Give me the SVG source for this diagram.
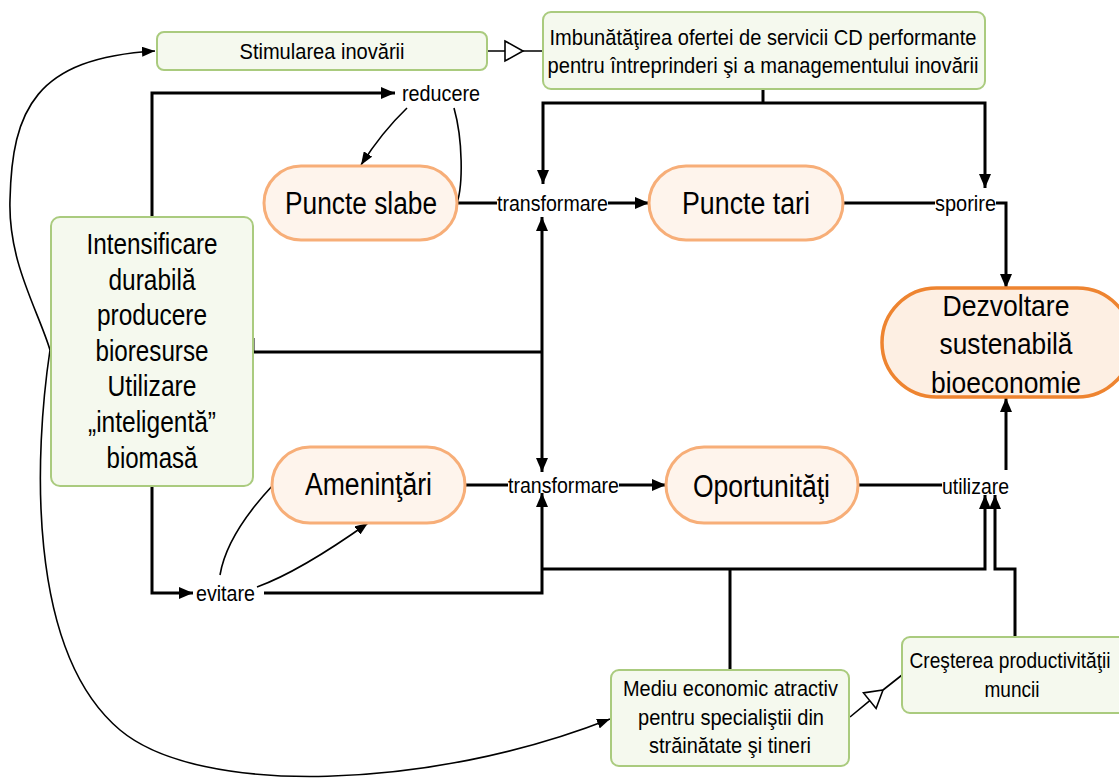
<svg xmlns="http://www.w3.org/2000/svg" width="1119" height="780" viewBox="0 0 1119 780">
<style>
.g{fill:#F5F9EE;stroke:#AACB7E;stroke-width:2}
.o{fill:#FEF4EC;stroke:#F7AE78;stroke-width:3}
.d{fill:#FDEFE3;stroke:#EE8430;stroke-width:3.5}
text{font-family:"Liberation Sans Narrow","Liberation Sans",Arial,sans-serif;fill:#000;text-anchor:middle}
.s{font-size:22px}
.m{font-size:29px}
.l{font-size:31px}
.k{stroke:#000;stroke-width:3;fill:none}
.n{stroke:#000;stroke-width:1.6;fill:none}
.tri{fill:#fff;stroke:#000;stroke-width:1.6}
</style>
<defs>
<marker id="a" viewBox="0 0 14 12" refX="14" refY="6" markerWidth="14" markerHeight="12" orient="auto" markerUnits="userSpaceOnUse"><path d="M0,0 L14,6 L0,12 z" fill="#000"/></marker>
<marker id="b" viewBox="0 0 13 10" refX="13" refY="5" markerWidth="13" markerHeight="10" orient="auto" markerUnits="userSpaceOnUse"><path d="M0,0 L13,5 L0,10 z" fill="#000"/></marker>
</defs>

<g id="connectors">
<path class="n" d="M487,51 L505,51 M523,51 L543,51"/>
<polygon class="tri" points="505,41 523,51 505,61"/>
<path class="k" d="M763,89 L763,103"/>
<path class="k" d="M763,103 L543,103 L543,184" marker-end="url(#a)"/>
<path class="k" d="M763,103 L985,103 L985,188" marker-end="url(#a)"/>
<path class="k" d="M152,217 L152,93 L395,93" marker-end="url(#a)"/>
<path class="n" d="M407,108 Q382,132 361,165" marker-end="url(#b)"/>
<path class="n" d="M454,108 C463,140 463,185 457,203"/>
<path class="k" d="M457,203 L497,203"/>
<path class="k" d="M608,203 L649,203" marker-end="url(#a)"/>
<path class="k" d="M843,203 L935,203"/>
<path class="k" d="M996,203 L1006,203 L1006,288" marker-end="url(#a)"/>
<path class="k" d="M253,338 L253,352 L542,352"/>
<path class="k" d="M542,352 L542,217" marker-end="url(#a)"/>
<path class="k" d="M542,352 L542,472" marker-end="url(#a)"/>
<path class="k" d="M465,485 L508,485"/>
<path class="k" d="M619,485 L666,485" marker-end="url(#a)"/>
<path class="k" d="M858,485 L942,485"/>
<path class="k" d="M1006,470 L1006,398" marker-end="url(#a)"/>
<path class="k" d="M152,486 L152,593 L193,593" marker-end="url(#a)"/>
<path class="k" d="M264,593 L542,593 L542,493" marker-end="url(#a)"/>
<path class="n" d="M220,575 C225,545 245,515 273,485"/>
<path class="n" d="M257,587 C290,575 330,550 368,523" marker-end="url(#b)"/>
<path class="k" d="M542,569 L985,569 L985,495" marker-end="url(#a)"/>
<path class="k" d="M730,670 L730,569"/>
<path class="k" d="M1015,637 L1015,569 L995,569 L995,495" marker-end="url(#a)"/>
<path class="n" d="M850,717 L869.8,700.7 M883,690 L902,675"/>
<polygon class="tri" points="863.5,692.9 883,690 876.1,708.5"/>
<path class="n" d="M50,350 C38,310 8,262 10,200 C12,110 35,58 155,51" marker-end="url(#b)"/>
<path class="n" d="M50,350 C35,450 25,650 120,730 C200,797 430,790 610,719" marker-end="url(#b)"/>
</g>

<g id="stimularea">
<rect class="g" x="157" y="32" width="330" height="38" rx="7"/>
<text class="s" x="322" y="59" textLength="165" lengthAdjust="spacingAndGlyphs">Stimularea inovării</text>
</g>
<g id="imbunatatirea">
<rect class="g" x="543" y="12" width="442" height="77" rx="8"/>
<text class="s" x="763" y="45" textLength="427" lengthAdjust="spacingAndGlyphs">Imbunătăţirea ofertei de servicii CD performante</text>
<text class="s" x="763" y="73" textLength="431" lengthAdjust="spacingAndGlyphs">pentru întreprinderi şi a managementului inovării</text>
</g>
<g id="reducere">
<text class="s" x="441" y="101" textLength="78" lengthAdjust="spacingAndGlyphs">reducere</text>
</g>
<g id="puncte-slabe">
<rect class="o" x="264" y="166" width="193" height="74" rx="37"/>
<text class="l" x="361" y="214" textLength="152" lengthAdjust="spacingAndGlyphs">Puncte slabe</text>
</g>
<g id="transformare-1">
<text class="s" x="552.5" y="211" textLength="111" lengthAdjust="spacingAndGlyphs">transformare</text>
</g>
<g id="puncte-tari">
<rect class="o" x="649" y="166" width="194" height="74" rx="37"/>
<text class="l" x="746" y="214" textLength="128" lengthAdjust="spacingAndGlyphs">Puncte tari</text>
</g>
<g id="sporire">
<text class="s" x="965.5" y="211" textLength="61" lengthAdjust="spacingAndGlyphs">sporire</text>
</g>
<g id="intensificare">
<rect class="g" x="51" y="217" width="202" height="269" rx="9"/>
<text class="m" x="152" y="253.5" textLength="131" lengthAdjust="spacingAndGlyphs">Intensificare</text>
<text class="m" x="152" y="289.5" textLength="87" lengthAdjust="spacingAndGlyphs">durabilă</text>
<text class="m" x="152" y="325" textLength="110" lengthAdjust="spacingAndGlyphs">producere</text>
<text class="m" x="152" y="360.5" textLength="113" lengthAdjust="spacingAndGlyphs">bioresurse</text>
<text class="m" x="152" y="396" textLength="89" lengthAdjust="spacingAndGlyphs">Utilizare</text>
<text class="m" x="152" y="432" textLength="128" lengthAdjust="spacingAndGlyphs">„inteligentă”</text>
<text class="m" x="152" y="467.5" textLength="91" lengthAdjust="spacingAndGlyphs">biomasă</text>
</g>
<g id="dezvoltare">
<rect class="d" x="882" y="288" width="250" height="109" rx="54.5"/>
<text class="m" x="1006" y="315.5" textLength="127" lengthAdjust="spacingAndGlyphs">Dezvoltare</text>
<text class="m" x="1006" y="353.5" textLength="133" lengthAdjust="spacingAndGlyphs">sustenabilă</text>
<text class="m" x="1006" y="392.5" textLength="150" lengthAdjust="spacingAndGlyphs">bioeconomie</text>
</g>
<g id="amenintari">
<rect class="o" x="272" y="447" width="193" height="76" rx="38"/>
<text class="l" x="368.5" y="495" textLength="127" lengthAdjust="spacingAndGlyphs">Ameninţări</text>
</g>
<g id="transformare-2">
<text class="s" x="563.5" y="493" textLength="111" lengthAdjust="spacingAndGlyphs">transformare</text>
</g>
<g id="oportunitati">
<rect class="o" x="666" y="447" width="192" height="76" rx="38"/>
<text class="l" x="761.5" y="497" textLength="137" lengthAdjust="spacingAndGlyphs">Oportunităţi</text>
</g>
<g id="utilizare">
<text class="s" x="975.5" y="494" textLength="67" lengthAdjust="spacingAndGlyphs">utilizare</text>
</g>
<g id="evitare">
<text class="s" x="225.5" y="601" textLength="59" lengthAdjust="spacingAndGlyphs">evitare</text>
</g>
<g id="mediu">
<rect class="g" x="611" y="670" width="238" height="96" rx="8"/>
<text class="s" x="730.5" y="696" textLength="215" lengthAdjust="spacingAndGlyphs">Mediu economic atractiv</text>
<text class="s" x="731" y="725" textLength="186" lengthAdjust="spacingAndGlyphs">pentru specialiştii din</text>
<text class="s" x="730" y="753" textLength="162" lengthAdjust="spacingAndGlyphs">străinătate şi tineri</text>
</g>
<g id="cresterea">
<rect class="g" x="902" y="637" width="228" height="76" rx="8"/>
<text class="s" transform="translate(1010,668) scale(0.87,1)" x="0" y="0">Creşterea productivităţii</text>
<text class="s" x="1012" y="697" textLength="55" lengthAdjust="spacingAndGlyphs">muncii</text>
</g>
</svg>
